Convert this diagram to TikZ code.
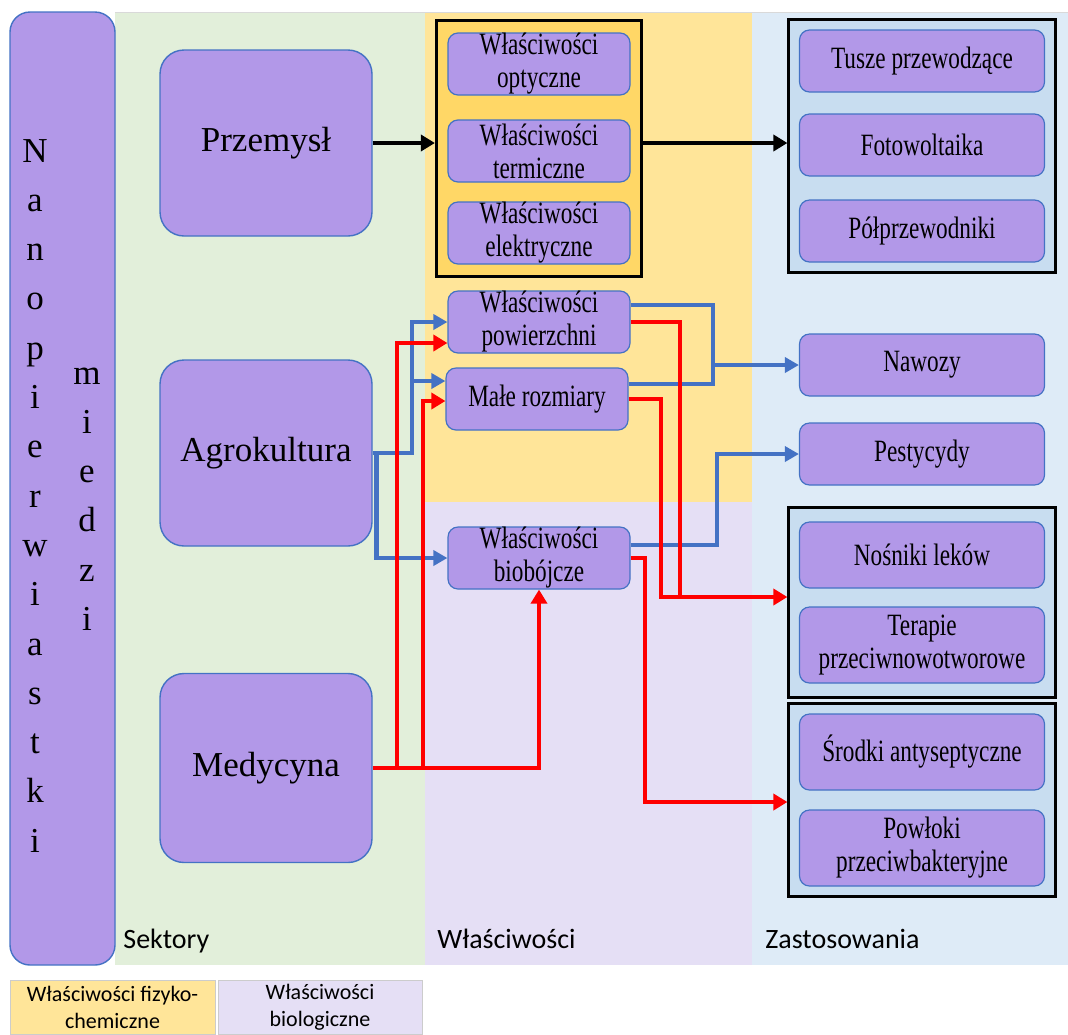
\documentclass[tikz,border=0pt]{standalone}
\usepackage{fontspec}
\setmainfont{Liberation Serif}
\newfontfamily\narrowserif[FakeStretch=0.75]{Liberation Serif}
\newfontfamily\calibrilike{Carlito}
\usetikzlibrary{arrows.meta,fit,backgrounds}
\definecolor{boxfill}{RGB}{178,152,232}
\definecolor{boxline}{RGB}{68,114,196}
\definecolor{bggreen}{RGB}{226,239,218}
\definecolor{bgyellow}{RGB}{255,229,153}
\definecolor{bglilac}{RGB}{229,223,245}
\definecolor{bgblue}{RGB}{222,235,247}
\definecolor{grpyellow}{RGB}{255,215,102}
\definecolor{grpblue}{RGB}{200,221,240}
\definecolor{arrblue}{RGB}{68,114,196}
\tikzset{
 sector/.style={draw=boxline,fill=boxfill,rounded corners=12pt,line width=0.7pt,
   minimum width=106pt,minimum height=93pt,font=\fontsize{17.5}{20}\selectfont},
 prop/.style={draw=boxline,fill=boxfill,rounded corners=5pt,line width=0.6pt,
   minimum width=91pt,minimum height=31pt,align=center,inner sep=0pt,
   font=\narrowserif\fontsize{15.5}{16.5}\selectfont},
 appl/.style={prop,minimum width=122.5pt},
 grp/.style={draw=black,line width=1.5pt,inner xsep=5.5pt,inner ysep=5pt},
 letter/.style={anchor=base,inner sep=0pt,font=\fontsize{17.5}{20}\selectfont},
 collabel/.style={anchor=base west,inner sep=0pt,font=\calibrilike\fontsize{14}{17}\selectfont},
 legend/.style={draw=gray!40,line width=0.4pt,minimum width=102.5pt,minimum height=27pt,
   align=center,inner sep=1pt,font=\calibrilike\fontsize{11}{13.5}\selectfont},
 blkarr/.style={line width=2.4pt,-{Triangle[length=7pt,width=8pt]}},
 blueline/.style={arrblue,line width=2.3pt},
 bluearr/.style={blueline,-{Triangle[length=7pt,width=7.5pt]}},
 redline/.style={red,line width=2.4pt},
 redarr/.style={redline,-{Triangle[length=7pt,width=8pt]}}
}
\begin{document}
\begin{tikzpicture}[x=0.5pt,y=-0.5pt]
\useasboundingbox (0,0) rectangle (1068,1034);
\begin{scope}[on background layer]
 \fill[bggreen] (115,12) rectangle (425,965);
 \fill[bgyellow] (425,12) rectangle (752,502);
 \fill[bglilac] (425,502) rectangle (752,965);
 \fill[bgblue] (752,12) rectangle (1068,965);
 \draw[gray!30,line width=0.4pt] (115,12) -- (1068,12);
\end{scope}

\node[draw=boxline,fill=boxfill,rounded corners=10pt,line width=0.7pt,
  minimum width=52.5pt,minimum height=476.5pt] (nano) at (62.5,488.5) {};
\foreach \c [count=\i from 0] in {N,a,n,o,p,i,e,r,w,i,a,s,t,k,i}
 \node[letter] (nl\i) at (35,{162+49.3*\i}) {\c};
\foreach \c [count=\i from 0] in {m,i,e,d,z,i}
 \node[letter] (ml\i) at (87,{384+49.3*\i}) {\c};

\node[collabel] (lsek) at (123,948) {Sektory};
\node[collabel] (lwl) at (437,948) {Właściwości};
\node[collabel] (lzas) at (765,948) {Zastosowania};

\node[sector] (przem) at (266,143) {Przemysł};
\node[sector] (agro) at (266,453) {Agrokultura};
\node[sector,minimum height=94.5pt] (medy) at (266,768) {Medycyna};

\node[prop] (opt) at (539,64) {Właściwości\\optyczne};
\node[prop] (term) at (539,151) {Właściwości\\termiczne};
\node[prop] (elek) at (539,233) {Właściwości\\elektryczne};
\node[prop] (powi) at (539,322) {Właściwości\\powierzchni};
\node[prop] (male) at (537,399) {Małe rozmiary};
\node[prop] (bio) at (539,558) {Właściwości\\biobójcze};

\node[appl] (tusze) at (922,61) {Tusze przewodzące};
\node[appl] (foto) at (922,145) {Fotowoltaika};
\node[appl] (polp) at (922,231) {Półprzewodniki};
\node[appl] (nawozy) at (922,365) {Nawozy};
\node[appl] (pest) at (922,454) {Pestycydy};
\node[appl,minimum height=33pt] (nosn) at (922,555) {Nośniki leków};
\node[appl,minimum height=38pt] (terap) at (922,645) {Terapie\\przeciwnowotworowe};
\node[appl,minimum height=38pt] (srod) at (922,752) {Środki antyseptyczne};
\node[appl,minimum height=38pt] (powl) at (922,848) {Powłoki\\przeciwbakteryjne};

\begin{scope}[on background layer]
 \node[grp,fill=grpyellow,inner ysep=6pt,fit=(opt)(elek)] (grp1) {};
 \node[grp,fill=grpblue,inner xsep=5pt,fit=(tusze)(polp)] (grp2) {};
 \node[grp,fill=grpblue,inner xsep=5pt,inner ysep=7pt,fit=(nosn)(terap)] (grp3) {};
 \node[grp,fill=grpblue,inner xsep=5pt,fit=(srod)(powl)] (grp4) {};
\end{scope}

\node[legend,fill=bgyellow] (lgfiz) at (112.5,1007) {Właściwości fizyko-\\chemiczne};
\node[legend,fill=bglilac,minimum width=102pt] (lgbio) at (320,1007) {Właściwości\\biologiczne};

\draw[blkarr] (przem.east) -- (przem.east -| grp1.west);
\draw[blkarr] (grp1.east |- przem.east) -- (przem.east -| grp2.west);

\coordinate (ajx) at (412,453);
\coordinate (mb) at ([yshift=9pt]male.west);
\coordinate (pb) at ([yshift=8.5pt]powi.east);
\coordinate (mbe) at ([yshift=7.5pt]male.east);
\coordinate (bb) at ([yshift=6.5pt]bio.east);
\coordinate (nx) at (713,365);
\coordinate (px) at (717,454);
\draw[bluearr] (agro.east) -- (ajx) |- (powi.west);
\draw[bluearr] (mb -| ajx) -- (mb);
\draw[bluearr] ([xshift=2pt]agro.east) |- (bio.west);
\draw[blueline] (pb) -| (nx) |- (mbe);
\draw[bluearr] (nx) -- (nawozy.west);
\draw[bluearr] (bb) -| (px) -- (pest.west);

\coordinate (r1) at (397,768);
\coordinate (r2) at (423,768);
\coordinate (rp) at ([yshift=-10.5pt]powi.west);
\coordinate (rm) at ([yshift=-1pt]male.west);
\coordinate (lx) at (661,597);
\coordinate (ljx) at (680,597);
\coordinate (sx) at (645,802);
\draw[redarr] (medy.east) -| (bio.south);
\draw[redarr] (r1) |- (rp);
\draw[redarr] (r2) |- (rm);
\draw[redline] (powi.east) -| (ljx);
\draw[redarr] (male.east) -| (lx) -- (lx -| grp3.west);
\draw[redarr] (bio.east) -| (sx) -- (sx -| grp4.west);
\end{tikzpicture}
\end{document}
